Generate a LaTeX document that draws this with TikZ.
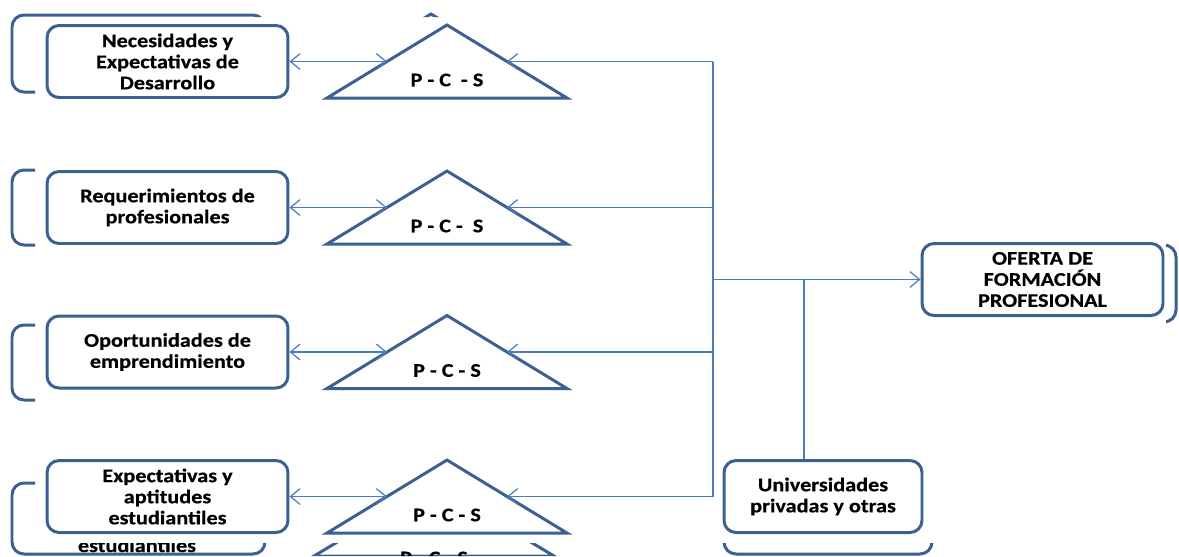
\documentclass[tikz,border=0pt]{standalone}
\usepackage{fontspec}
\setmainfont{Carlito}[FakeStretch=1.15, BoldFeatures={FakeBold=0.5}]
\usetikzlibrary{arrows.meta,calc}
\definecolor{boxc}{HTML}{3B6091}
\definecolor{linec}{HTML}{4A7EBB}
\begin{document}
\begin{tikzpicture}[x=0.02cm,y=-0.02cm,
  font=\fontsize{11}{12}\selectfont\bfseries,
  bx/.style={draw=boxc, line width=1.7pt, rounded corners=0.24cm, fill=white, align=center, inner sep=0pt, minimum width=4.82cm, minimum height=1.44cm},
  tri/.style={draw=boxc, line width=1.7pt, line join=miter},
  conn/.style={draw=linec, line width=0.7pt},
  barb/.tip={Straight Barb[length=5.5pt,width=9pt]},
  tip/.style={-barb},
  both/.style={barb-barb},
  ghost/.style={draw=boxc, line width=1.7pt, rounded corners=0.24cm},
  lbl/.style={inner sep=0pt}
]
\useasboundingbox (0,0) rectangle (1179,556);

% ghost layer visible only in the margins
\begin{scope}
\clip (0,0) rectangle (35,556) (0,0) rectangle (1179,17) (0,543) rectangle (1179,556) (1166,0) rectangle (1179,556);
\draw[ghost] (12,15) rectangle (265,92);
\draw[ghost] (12,170) rectangle (265,245);
\draw[ghost] (12,325) rectangle (265,400);
\draw[ghost] (12,483) rectangle (265,554);
\draw[ghost] (724,480) rectangle (932,554);
\draw[ghost] (935,245) rectangle (1176,322);
\draw[tri] (431,14) -- (551,86) -- (311,86) -- cycle;
\draw[tri] (434,484) -- (554,556) -- (314,556) -- cycle;
\node[lbl, anchor=base] (gt) at (137,552) {estudiantiles};
\node[lbl] (gp) at (434,558) {P - C - S};
\end{scope}

% boxes
\node[bx] (b1) at (167.5,61.5) {Necesidades y\\Expectativas de\\Desarrollo};
\node[bx] (b2) at (167.5,207.5) {Requerimientos de\\profesionales};
\node[bx] (b3) at (167.5,352) {Oportunidades de\\emprendimiento};
\node[bx] (b4) at (167.5,496.5) {Expectativas y\\aptitudes\\estudiantiles};
\node[bx] (of) at (1042.5,279.5) {OFERTA DE\\FORMACIÓN\\PROFESIONAL};
\node[bx, minimum width=3.96cm] (un) at (823,496.5) {Universidades\\privadas y otras};

% triangles
\draw[tri] (447,25) -- (567,98) -- (327,98) -- cycle;
\draw[tri] (447,171) -- (567,244) -- (327,244) -- cycle;
\draw[tri] (447,315.5) -- (567,388.5) -- (327,388.5) -- cycle;
\draw[tri] (447,460) -- (567,533) -- (327,533) -- cycle;
\node[lbl] (p1) at (447,80) {P - C \ - S};
\node[lbl] (p2) at (447,226) {P - C - \ S};
\node[lbl] (p3) at (447,370.5) {P - C - S};
\node[lbl] (p4) at (447,515) {P - C - S};

\coordinate (t1l) at (387,61.5);  \coordinate (t1r) at (507,61.5);
\coordinate (t2l) at (387,207.5); \coordinate (t2r) at (507,207.5);
\coordinate (t3l) at (387,352);   \coordinate (t3r) at (507,352);
\coordinate (t4l) at (387,496.5); \coordinate (t4r) at (507,496.5);
\coordinate (v1) at (713,61.5);
\coordinate (v2) at (713,207.5);
\coordinate (v3) at (713,352);
\coordinate (v4) at (713,496.5);
\coordinate (j1) at (713,279.5);
\coordinate (j2) at (804,279.5);

% connectors
\draw[conn, both] (b1.east) -- (t1l);
\draw[conn, both] (b2.east) -- (t2l);
\draw[conn, both] (b3.east) -- (t3l);
\draw[conn, both] (b4.east) -- (t4l);
\draw[conn, tip] (v1) -- (t1r);
\draw[conn, tip] (v2) -- (t2r);
\draw[conn, tip] (v3) -- (t3r);
\draw[conn, tip] (v4) -- (t4r);
\draw[conn] (v1) -- (v4);
\draw[conn, tip] (j1) -- (of.west);
\draw[conn] (j2) -- (j2 |- un.north);
\end{tikzpicture}
\end{document}
